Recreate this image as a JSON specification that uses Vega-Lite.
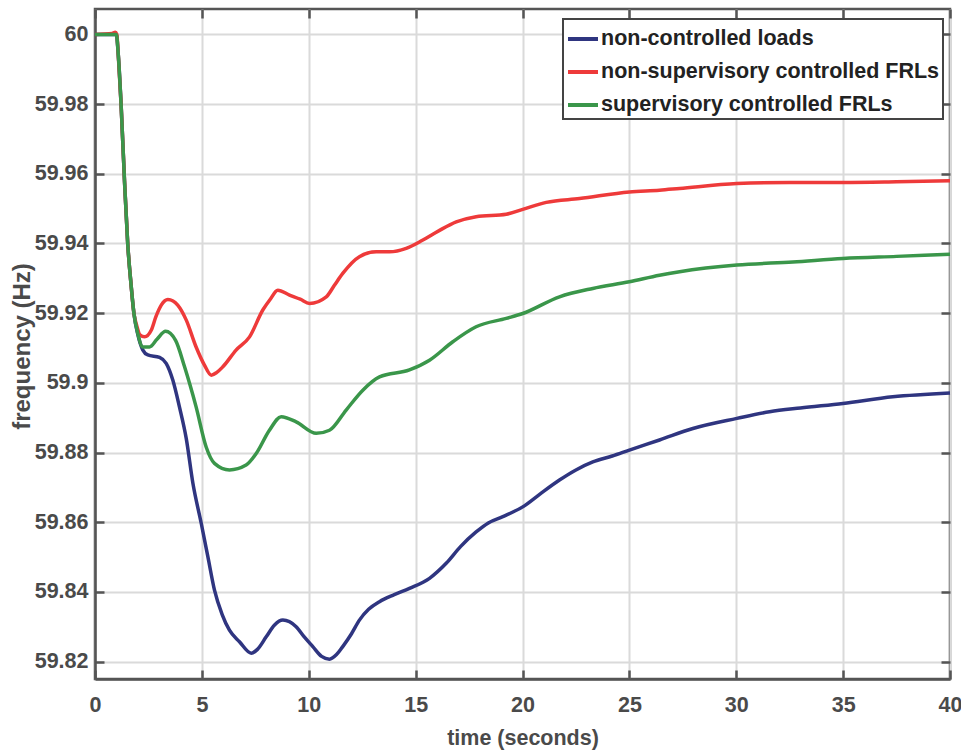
{
  "$schema": "https://vega.github.io/schema/vega-lite/v6.json",
  "width": 855,
  "height": 670,
  "autosize": {"type": "none"},
  "padding": {"left": 95, "top": 9, "right": 11, "bottom": 73},
  "background": "white",
  "config": {
    "view": {"stroke": "#555555", "strokeWidth": 2.5},
    "font": "Liberation Sans",
    "legend": {"strokeWidth": 2},
    "axis": {
      "labelFont": "Liberation Sans",
      "labelFontSize": 21.5,
      "labelFontWeight": "bold",
      "labelColor": "#4a4a4a",
      "titleFont": "Liberation Sans",
      "titleFontWeight": "bold",
      "titleColor": "#4a4a4a",
      "domainColor": "#555555",
      "domainWidth": 2.5,
      "tickColor": "#555555",
      "tickWidth": 2.5,
      "tickSize": -9,
      "gridColor": "#dadada",
      "gridWidth": 2
    }
  },
  "datasets": {
    "freq": [
      {"t": 0, "f": 60, "s": "non-controlled loads"},
      {"t": 1.0, "f": 60, "s": "non-controlled loads"},
      {"t": 1.08, "f": 59.995, "s": "non-controlled loads"},
      {"t": 1.22, "f": 59.98, "s": "non-controlled loads"},
      {"t": 1.38, "f": 59.958, "s": "non-controlled loads"},
      {"t": 1.53, "f": 59.94, "s": "non-controlled loads"},
      {"t": 1.69, "f": 59.928, "s": "non-controlled loads"},
      {"t": 1.82, "f": 59.92, "s": "non-controlled loads"},
      {"t": 2.0, "f": 59.914, "s": "non-controlled loads"},
      {"t": 2.24, "f": 59.9094, "s": "non-controlled loads"},
      {"t": 2.47, "f": 59.908, "s": "non-controlled loads"},
      {"t": 3.02, "f": 59.9073, "s": "non-controlled loads"},
      {"t": 3.33, "f": 59.9056, "s": "non-controlled loads"},
      {"t": 3.64, "f": 59.9008, "s": "non-controlled loads"},
      {"t": 3.95, "f": 59.8931, "s": "non-controlled loads"},
      {"t": 4.27, "f": 59.884, "s": "non-controlled loads"},
      {"t": 4.58, "f": 59.8712, "s": "non-controlled loads"},
      {"t": 4.97, "f": 59.8597, "s": "non-controlled loads"},
      {"t": 5.28, "f": 59.8501, "s": "non-controlled loads"},
      {"t": 5.59, "f": 59.8405, "s": "non-controlled loads"},
      {"t": 5.95, "f": 59.8335, "s": "non-controlled loads"},
      {"t": 6.29, "f": 59.829, "s": "non-controlled loads"},
      {"t": 6.76, "f": 59.8257, "s": "non-controlled loads"},
      {"t": 7.31, "f": 59.8224, "s": "non-controlled loads"},
      {"t": 7.6, "f": 59.8235, "s": "non-controlled loads"},
      {"t": 8.01, "f": 59.8271, "s": "non-controlled loads"},
      {"t": 8.4, "f": 59.8305, "s": "non-controlled loads"},
      {"t": 8.79, "f": 59.8319, "s": "non-controlled loads"},
      {"t": 9.41, "f": 59.83, "s": "non-controlled loads"},
      {"t": 9.8, "f": 59.827, "s": "non-controlled loads"},
      {"t": 10.19, "f": 59.8243, "s": "non-controlled loads"},
      {"t": 10.6, "f": 59.8215, "s": "non-controlled loads"},
      {"t": 10.97, "f": 59.8207, "s": "non-controlled loads"},
      {"t": 11.3, "f": 59.822, "s": "non-controlled loads"},
      {"t": 11.59, "f": 59.8243, "s": "non-controlled loads"},
      {"t": 12.0, "f": 59.828, "s": "non-controlled loads"},
      {"t": 12.37, "f": 59.8319, "s": "non-controlled loads"},
      {"t": 12.8, "f": 59.835, "s": "non-controlled loads"},
      {"t": 13.31, "f": 59.8372, "s": "non-controlled loads"},
      {"t": 14.0, "f": 59.8392, "s": "non-controlled loads"},
      {"t": 14.71, "f": 59.841, "s": "non-controlled loads"},
      {"t": 15.65, "f": 59.8439, "s": "non-controlled loads"},
      {"t": 16.43, "f": 59.8482, "s": "non-controlled loads"},
      {"t": 17.1, "f": 59.853, "s": "non-controlled loads"},
      {"t": 17.83, "f": 59.8572, "s": "non-controlled loads"},
      {"t": 18.4, "f": 59.8598, "s": "non-controlled loads"},
      {"t": 19.08, "f": 59.8616, "s": "non-controlled loads"},
      {"t": 20.01, "f": 59.8644, "s": "non-controlled loads"},
      {"t": 20.8, "f": 59.868, "s": "non-controlled loads"},
      {"t": 21.73, "f": 59.8721, "s": "non-controlled loads"},
      {"t": 22.5, "f": 59.875, "s": "non-controlled loads"},
      {"t": 23.29, "f": 59.8773, "s": "non-controlled loads"},
      {"t": 24.2, "f": 59.879, "s": "non-controlled loads"},
      {"t": 25.0, "f": 59.8807, "s": "non-controlled loads"},
      {"t": 26.41, "f": 59.8836, "s": "non-controlled loads"},
      {"t": 27.97, "f": 59.8869, "s": "non-controlled loads"},
      {"t": 30.03, "f": 59.8898, "s": "non-controlled loads"},
      {"t": 31.56, "f": 59.8917, "s": "non-controlled loads"},
      {"t": 33.0, "f": 59.8928, "s": "non-controlled loads"},
      {"t": 34.99, "f": 59.8941, "s": "non-controlled loads"},
      {"t": 37.32, "f": 59.896, "s": "non-controlled loads"},
      {"t": 40, "f": 59.8971, "s": "non-controlled loads"},

      {"t": 0, "f": 60, "s": "non-supervisory controlled FRLs"},
      {"t": 0.8, "f": 60.0003, "s": "non-supervisory controlled FRLs"},
      {"t": 0.95, "f": 60.0006, "s": "non-supervisory controlled FRLs"},
      {"t": 1.02, "f": 60, "s": "non-supervisory controlled FRLs"},
      {"t": 1.08, "f": 59.995, "s": "non-supervisory controlled FRLs"},
      {"t": 1.22, "f": 59.98, "s": "non-supervisory controlled FRLs"},
      {"t": 1.38, "f": 59.958, "s": "non-supervisory controlled FRLs"},
      {"t": 1.53, "f": 59.94, "s": "non-supervisory controlled FRLs"},
      {"t": 1.69, "f": 59.928, "s": "non-supervisory controlled FRLs"},
      {"t": 1.82, "f": 59.92, "s": "non-supervisory controlled FRLs"},
      {"t": 1.95, "f": 59.9165, "s": "non-supervisory controlled FRLs"},
      {"t": 2.1, "f": 59.9138, "s": "non-supervisory controlled FRLs"},
      {"t": 2.32, "f": 59.9132, "s": "non-supervisory controlled FRLs"},
      {"t": 2.63, "f": 59.9151, "s": "non-supervisory controlled FRLs"},
      {"t": 2.85, "f": 59.919, "s": "non-supervisory controlled FRLs"},
      {"t": 3.1, "f": 59.9223, "s": "non-supervisory controlled FRLs"},
      {"t": 3.41, "f": 59.9239, "s": "non-supervisory controlled FRLs"},
      {"t": 3.65, "f": 59.9235, "s": "non-supervisory controlled FRLs"},
      {"t": 3.87, "f": 59.9223, "s": "non-supervisory controlled FRLs"},
      {"t": 4.27, "f": 59.918, "s": "non-supervisory controlled FRLs"},
      {"t": 4.73, "f": 59.9103, "s": "non-supervisory controlled FRLs"},
      {"t": 5.12, "f": 59.9051, "s": "non-supervisory controlled FRLs"},
      {"t": 5.44, "f": 59.9022, "s": "non-supervisory controlled FRLs"},
      {"t": 5.7, "f": 59.903, "s": "non-supervisory controlled FRLs"},
      {"t": 5.98, "f": 59.9046, "s": "non-supervisory controlled FRLs"},
      {"t": 6.6, "f": 59.9094, "s": "non-supervisory controlled FRLs"},
      {"t": 7.23, "f": 59.9132, "s": "non-supervisory controlled FRLs"},
      {"t": 7.85, "f": 59.9209, "s": "non-supervisory controlled FRLs"},
      {"t": 8.2, "f": 59.924, "s": "non-supervisory controlled FRLs"},
      {"t": 8.55, "f": 59.9266, "s": "non-supervisory controlled FRLs"},
      {"t": 9.1, "f": 59.9252, "s": "non-supervisory controlled FRLs"},
      {"t": 9.6, "f": 59.924, "s": "non-supervisory controlled FRLs"},
      {"t": 10.04, "f": 59.9228, "s": "non-supervisory controlled FRLs"},
      {"t": 10.82, "f": 59.9247, "s": "non-supervisory controlled FRLs"},
      {"t": 11.2, "f": 59.928, "s": "non-supervisory controlled FRLs"},
      {"t": 11.59, "f": 59.9314, "s": "non-supervisory controlled FRLs"},
      {"t": 12.37, "f": 59.9362, "s": "non-supervisory controlled FRLs"},
      {"t": 13.16, "f": 59.9376, "s": "non-supervisory controlled FRLs"},
      {"t": 13.78, "f": 59.9376, "s": "non-supervisory controlled FRLs"},
      {"t": 14.56, "f": 59.9386, "s": "non-supervisory controlled FRLs"},
      {"t": 15.34, "f": 59.941, "s": "non-supervisory controlled FRLs"},
      {"t": 16.1, "f": 59.9437, "s": "non-supervisory controlled FRLs"},
      {"t": 16.9, "f": 59.9462, "s": "non-supervisory controlled FRLs"},
      {"t": 17.83, "f": 59.9477, "s": "non-supervisory controlled FRLs"},
      {"t": 19.24, "f": 59.9484, "s": "non-supervisory controlled FRLs"},
      {"t": 20.01, "f": 59.9498, "s": "non-supervisory controlled FRLs"},
      {"t": 21.11, "f": 59.9518, "s": "non-supervisory controlled FRLs"},
      {"t": 22.67, "f": 59.9529, "s": "non-supervisory controlled FRLs"},
      {"t": 25.0, "f": 59.9548, "s": "non-supervisory controlled FRLs"},
      {"t": 26.41, "f": 59.9553, "s": "non-supervisory controlled FRLs"},
      {"t": 27.35, "f": 59.9558, "s": "non-supervisory controlled FRLs"},
      {"t": 30.03, "f": 59.9572, "s": "non-supervisory controlled FRLs"},
      {"t": 32.5, "f": 59.9575, "s": "non-supervisory controlled FRLs"},
      {"t": 34.99, "f": 59.9575, "s": "non-supervisory controlled FRLs"},
      {"t": 37.5, "f": 59.9577, "s": "non-supervisory controlled FRLs"},
      {"t": 40, "f": 59.958, "s": "non-supervisory controlled FRLs"},

      {"t": 0, "f": 60, "s": "supervisory controlled FRLs"},
      {"t": 1.0, "f": 60, "s": "supervisory controlled FRLs"},
      {"t": 1.08, "f": 59.995, "s": "supervisory controlled FRLs"},
      {"t": 1.22, "f": 59.98, "s": "supervisory controlled FRLs"},
      {"t": 1.38, "f": 59.958, "s": "supervisory controlled FRLs"},
      {"t": 1.53, "f": 59.94, "s": "supervisory controlled FRLs"},
      {"t": 1.69, "f": 59.928, "s": "supervisory controlled FRLs"},
      {"t": 1.82, "f": 59.92, "s": "supervisory controlled FRLs"},
      {"t": 2.0, "f": 59.9142, "s": "supervisory controlled FRLs"},
      {"t": 2.24, "f": 59.9103, "s": "supervisory controlled FRLs"},
      {"t": 2.55, "f": 59.9103, "s": "supervisory controlled FRLs"},
      {"t": 2.9, "f": 59.9125, "s": "supervisory controlled FRLs"},
      {"t": 3.3, "f": 59.9148, "s": "supervisory controlled FRLs"},
      {"t": 3.77, "f": 59.9122, "s": "supervisory controlled FRLs"},
      {"t": 4.19, "f": 59.9046, "s": "supervisory controlled FRLs"},
      {"t": 4.73, "f": 59.8931, "s": "supervisory controlled FRLs"},
      {"t": 5.2, "f": 59.8816, "s": "supervisory controlled FRLs"},
      {"t": 5.59, "f": 59.8769, "s": "supervisory controlled FRLs"},
      {"t": 6.29, "f": 59.875, "s": "supervisory controlled FRLs"},
      {"t": 7.07, "f": 59.8764, "s": "supervisory controlled FRLs"},
      {"t": 7.54, "f": 59.8797, "s": "supervisory controlled FRLs"},
      {"t": 8.16, "f": 59.8864, "s": "supervisory controlled FRLs"},
      {"t": 8.71, "f": 59.8903, "s": "supervisory controlled FRLs"},
      {"t": 9.41, "f": 59.8888, "s": "supervisory controlled FRLs"},
      {"t": 10.35, "f": 59.8855, "s": "supervisory controlled FRLs"},
      {"t": 10.97, "f": 59.8864, "s": "supervisory controlled FRLs"},
      {"t": 11.75, "f": 59.8922, "s": "supervisory controlled FRLs"},
      {"t": 12.53, "f": 59.8979, "s": "supervisory controlled FRLs"},
      {"t": 13.31, "f": 59.9017, "s": "supervisory controlled FRLs"},
      {"t": 14.71, "f": 59.9037, "s": "supervisory controlled FRLs"},
      {"t": 15.65, "f": 59.9065, "s": "supervisory controlled FRLs"},
      {"t": 16.74, "f": 59.9118, "s": "supervisory controlled FRLs"},
      {"t": 17.83, "f": 59.9161, "s": "supervisory controlled FRLs"},
      {"t": 19.24, "f": 59.9185, "s": "supervisory controlled FRLs"},
      {"t": 20.01, "f": 59.9199, "s": "supervisory controlled FRLs"},
      {"t": 21.73, "f": 59.9247, "s": "supervisory controlled FRLs"},
      {"t": 23.29, "f": 59.9271, "s": "supervisory controlled FRLs"},
      {"t": 25.0, "f": 59.929, "s": "supervisory controlled FRLs"},
      {"t": 26.41, "f": 59.9309, "s": "supervisory controlled FRLs"},
      {"t": 27.35, "f": 59.9319, "s": "supervisory controlled FRLs"},
      {"t": 30.03, "f": 59.9338, "s": "supervisory controlled FRLs"},
      {"t": 32.65, "f": 59.9347, "s": "supervisory controlled FRLs"},
      {"t": 34.99, "f": 59.9357, "s": "supervisory controlled FRLs"},
      {"t": 37.5, "f": 59.9363, "s": "supervisory controlled FRLs"},
      {"t": 40, "f": 59.9369, "s": "supervisory controlled FRLs"}
    ]
  },
  "data": {"name": "freq"},
  "layer": [
    {
      "mark": {"type": "line", "strokeWidth": 3.5, "interpolate": "monotone"},
      "encoding": {
        "x": {
          "field": "t", "type": "quantitative",
          "scale": {"domain": [0, 40], "nice": false, "zero": false},
          "axis": {
            "title": "time (seconds)", "titleFontSize": 21.5,
            "titleBaseline": "middle", "titleY": 59,
            "values": [0, 5, 10, 15, 20, 25, 30, 35, 40],
            "labelPadding": 24, "labelFlush": false
          }
        },
        "y": {
          "field": "f", "type": "quantitative",
          "scale": {"domain": [59.815, 60.0073], "nice": false, "zero": false},
          "axis": {
            "title": "frequency (Hz)", "titleFontSize": 24,
            "titleBaseline": "middle", "titleX": -73, "titleY": 337,
            "values": [59.82, 59.84, 59.86, 59.88, 59.9, 59.92, 59.94, 59.96, 59.98, 60],
            "format": "~g",
            "labelPadding": 16
          }
        },
        "color": {
          "field": "s", "type": "nominal",
          "scale": {
            "domain": ["non-controlled loads", "non-supervisory controlled FRLs", "supervisory controlled FRLs"],
            "range": ["#2f3580", "#ee3a3a", "#3a964a"]
          },
          "legend": {
            "title": null,
            "orient": "none",
            "legendX": 468,
            "legendY": 10,
            "direction": "vertical",
            "symbolType": "stroke",
            "symbolSize": 900,
            "symbolStrokeWidth": 4,
            "labelFont": "Liberation Sans",
            "labelFontSize": 21.5,
            "labelFontWeight": "bold",
            "labelColor": "#222222",
            "labelOffset": 1,
            "labelLimit": 500,
            "rowPadding": 5,
            "padding": 3,
            "strokeColor": "#444444",
            "fillColor": "white"
          }
        }
      }
    },
    {
      "mark": {"type": "point", "opacity": 0, "size": 1},
      "encoding": {
        "x": {
          "field": "t", "type": "quantitative",
          "axis": {"orient": "top", "labels": false, "grid": false, "title": null, "domain": false,
                   "values": [0, 5, 10, 15, 20, 25, 30, 35, 40]}
        },
        "y": {
          "field": "f", "type": "quantitative",
          "axis": {"orient": "right", "labels": false, "grid": false, "title": null, "domain": false,
                   "values": [59.82, 59.84, 59.86, 59.88, 59.9, 59.92, 59.94, 59.96, 59.98, 60]}
        }
      }
    }
  ],
  "resolve": {"axis": {"x": "independent", "y": "independent"}}
}
